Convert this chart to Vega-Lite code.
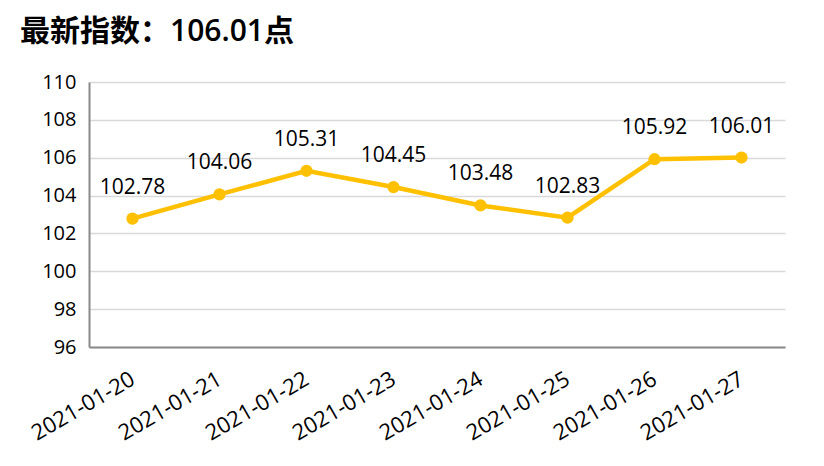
{
  "$schema": "https://vega.github.io/schema/vega-lite/v6.json",
  "width": 696,
  "height": 265,
  "autosize": {"type": "none"},
  "padding": {"left": 89, "top": 82, "right": 39, "bottom": 119},
  "background": "white",
  "title": {
    "text": "最新指数：106.01点",
    "anchor": "start",
    "frame": "group",
    "dx": -69,
    "offset": 25,
    "font": "Open Sans, Noto Sans CJK SC",
    "fontSize": 30,
    "fontWeight": 600,
    "color": "#000000"
  },
  "data": {
    "values": [
      {"date": "2021-01-20", "value": 102.78},
      {"date": "2021-01-21", "value": 104.06},
      {"date": "2021-01-22", "value": 105.31},
      {"date": "2021-01-23", "value": 104.45},
      {"date": "2021-01-24", "value": 103.48},
      {"date": "2021-01-25", "value": 102.83},
      {"date": "2021-01-26", "value": 105.92},
      {"date": "2021-01-27", "value": 106.01}
    ]
  },
  "config": {
    "view": {"stroke": null},
    "font": "Open Sans"
  },
  "encoding": {
    "x": {
      "field": "date",
      "type": "ordinal",
      "scale": {"type": "point", "padding": 0.5},
      "axis": {
        "title": null,
        "labelAngle": -30,
        "labelAlign": "right",
        "labelBaseline": "middle",
        "labelFontSize": 22,
        "labelColor": "#000000",
        "labelPadding": 30,
        "ticks": false,
        "domainColor": "#898989",
        "domainWidth": 2,
        "grid": false
      }
    },
    "y": {
      "field": "value",
      "type": "quantitative",
      "scale": {"domain": [96, 110], "nice": false, "zero": false},
      "axis": {
        "title": null,
        "values": [96, 98, 100, 102, 104, 106, 108, 110],
        "labelFontSize": 20,
        "labelColor": "#000000",
        "labelPadding": 13,
        "ticks": false,
        "domainColor": "#898989",
        "domainWidth": 2,
        "gridColor": "#d9d9d9",
        "gridWidth": 1.5
      }
    }
  },
  "layer": [
    {
      "mark": {"type": "line", "color": "#FFC000", "strokeWidth": 4.5}
    },
    {
      "mark": {"type": "point", "filled": true, "color": "#FFC000", "size": 150, "opacity": 1}
    },
    {
      "mark": {"type": "text", "dy": -31, "fontSize": 21, "color": "#000000"},
      "encoding": {
        "text": {"field": "value", "type": "quantitative", "format": ".2f"}
      }
    }
  ]
}
